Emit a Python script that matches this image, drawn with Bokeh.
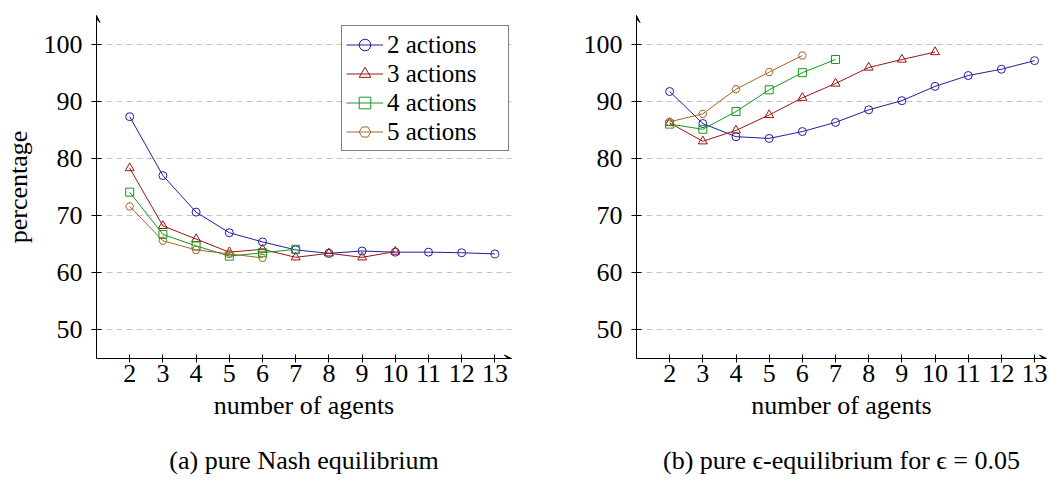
from bokeh.plotting import figure
from bokeh.layouts import row
from bokeh.models import FixedTicker, Arrow, VeeHead, Range1d, Legend, LinearAxis
from bokeh.embed import file_html
from bokeh.resources import INLINE

# ---- data ----
agents = [2, 3, 4, 5, 6, 7, 8, 9, 10, 11, 12, 13]
series_names = ["2 actions", "3 actions", "4 actions", "5 actions"]

nash_2 = [87.3, 77.0, 70.6, 67.0, 65.4, 64.0, 63.4, 63.8, 63.6, 63.6, 63.5, 63.3]
nash_3 = [78.3, 68.2, 65.9, 63.6, 64.1, 62.7, 63.4, 62.7, 63.7]
nash_4 = [74.1, 66.7, 64.7, 62.9, 63.5, 64.1]
nash_5 = [71.6, 65.6, 64.0, 63.3, 62.6]

eps_2 = [91.7, 86.1, 83.8, 83.5, 84.7, 86.3, 88.5, 90.1, 92.6, 94.5, 95.6, 97.1]
eps_3 = [86.2, 83.0, 84.9, 87.6, 90.6, 93.1, 95.9, 97.3, 98.6]
eps_4 = [86.0, 85.1, 88.2, 92.0, 95.0, 97.3]
eps_5 = [86.4, 87.8, 92.1, 95.1, 98.0]

y_ticks = [50, 60, 70, 80, 90, 100]
x_ticks = agents

caption_a = "(a) pure Nash equilibrium"
caption_b = "(b) pure \u03f5-equilibrium for \u03f5 = 0.05"

# ---- styles ----
colors = ["#1f1f9f", "#991515", "#14991a", "#a6652a"]
markers = ["circle", "triangle", "square", "hex"]
msizes = [8, 9, 8, 8]
FONT = "'Liberation Serif', serif"
FS = "26px"
H = 480


def make_fig(width, min_left, min_right, x_end, ylabel, seriess, caption, cap_bounds, legend):
    p = figure(width=width, height=H, output_backend="svg", toolbar_location=None,
               x_range=Range1d(1, x_end), y_range=Range1d(45, 105),
               min_border_left=min_left, min_border_right=min_right,
               min_border_top=15, min_border_bottom=H - 15 - 343)
    p.outline_line_color = None
    p.background_fill_color = "white"
    p.border_fill_color = "white"
    p.xgrid.visible = False
    p.ygrid.grid_line_color = "#c4c4c4"
    p.ygrid.grid_line_dash = "6 4"
    p.ygrid.grid_line_width = 1
    p.ygrid.ticker = FixedTicker(ticks=y_ticks)

    p.xaxis.ticker = FixedTicker(ticks=x_ticks)
    p.yaxis.ticker = FixedTicker(ticks=y_ticks)
    for axl in (p.xaxis, p.yaxis):
        axl.axis_line_color = "black"
        axl.major_tick_line_color = "black"
        axl.minor_tick_line_color = None
        axl.major_label_text_font = FONT
        axl.major_label_text_font_size = FS
        axl.major_label_text_color = "black"
        axl.axis_label_text_font = FONT
        axl.axis_label_text_font_size = FS
        axl.axis_label_text_font_style = "normal"
        axl.axis_label_text_color = "black"

    p.xaxis.major_tick_in = 4
    p.xaxis.major_tick_out = 4
    p.xaxis.major_label_standoff = 2
    p.xaxis.axis_label = "number of agents"
    p.xaxis.axis_label_standoff = 6
    p.yaxis.major_tick_in = 5
    p.yaxis.major_tick_out = 5
    p.yaxis.major_label_standoff = 9
    if ylabel:
        p.yaxis.axis_label = ylabel
        p.yaxis.axis_label_standoff = 8

    # caption as the label of an extra, tick-less, invisible axis below
    cap = LinearAxis(ticker=FixedTicker(ticks=[]), axis_label=caption, bounds=cap_bounds,
                     axis_line_color=None, major_tick_line_color=None,
                     minor_tick_line_color=None, major_tick_in=0, major_tick_out=0,
                     major_label_standoff=0, axis_label_standoff=23,
                     axis_label_text_font=FONT, axis_label_text_font_size=FS,
                     axis_label_text_font_style="normal", axis_label_text_color="black")
    p.add_layout(cap, "below")

    items = []
    for i, vals in enumerate(seriess):
        xs = agents[:len(vals)]
        ln = p.line(xs, vals, line_color=colors[i], line_width=1)
        sc = p.scatter(xs, vals, marker=markers[i], size=msizes[i], line_color=colors[i],
                       fill_color=None, line_width=1)
        items.append((series_names[i], [ln, sc]))

    if legend:
        lg = Legend(items=items, location=(245, 207), orientation="vertical",
                    label_text_font=FONT, label_text_font_size="25px", label_text_color="black")
        lg.border_line_color = "black"
        lg.border_line_width = 1
        lg.background_fill_color = "white"
        lg.background_fill_alpha = 1
        lg.padding = 4
        lg.spacing = 0
        lg.margin = 0
        lg.glyph_width = 37
        lg.glyph_height = 29
        lg.label_height = 29
        lg.label_width = 117
        lg.label_standoff = 4
        p.add_layout(lg, "center")

    head_kw = dict(size=7, line_color="black", fill_color="black", line_width=1)
    p.add_layout(Arrow(end=VeeHead(**head_kw), x_start=1, y_start=45, x_end=1, y_end=105,
                       line_color="black", line_width=1))
    p.add_layout(Arrow(end=VeeHead(**head_kw), x_start=1, y_start=45, x_end=x_end, y_end=45,
                       line_color="black", line_width=1))
    return p


p1 = make_fig(540, 96, 29, 13.5, "percentage", [nash_2, nash_3, nash_4, nash_5],
              caption_a, (1.0, 9.38), True)
p2 = make_fig(508, 96, 2, 13.36, None, [eps_2, eps_3, eps_4, eps_5],
              caption_b, (2.5, 13.0), False)

layout = row(p1, p2)
open("out.html", "w").write(file_html(layout, INLINE))
